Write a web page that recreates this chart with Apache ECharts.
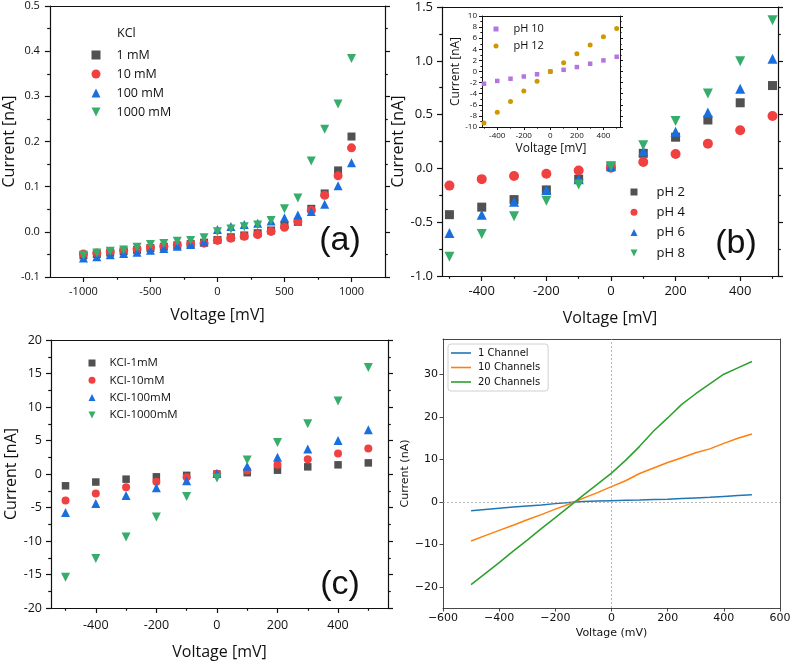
<!DOCTYPE html>
<html>
<head>
<meta charset="utf-8"/>
<title>I-V curves</title>
<script src="https://cdn.jsdelivr.net/npm/echarts@6.0.0/dist/echarts.min.js"></script>
<style>
  html, body {margin: 0; padding: 0; background: #fff;}
  #chart {width: 794px; height: 671px;}
</style>
</head>
<body>
<div id="chart"></div>
<script>
// ---- data ----
// (a) KCl concentration, -1000..1000 mV
var voltA = [-1000,-900,-800,-700,-600,-500,-400,-300,-200,-100,0,100,200,300,400,500,600,700,800,900,1000];
var kcl1A = [-0.052,-0.049,-0.046,-0.043,-0.040,-0.036,-0.033,-0.030,-0.027,-0.024,-0.018,-0.012,-0.008,-0.003,0.003,0.015,0.022,0.051,0.085,0.136,0.211];
var kcl10A = [-0.049,-0.047,-0.044,-0.041,-0.038,-0.035,-0.032,-0.029,-0.027,-0.025,-0.019,-0.014,-0.010,-0.006,0.001,0.010,0.023,0.048,0.081,0.124,0.186];
var kcl100A = [-0.058,-0.055,-0.051,-0.048,-0.045,-0.041,-0.037,-0.032,-0.028,-0.022,0.005,0.012,0.016,0.019,0.024,0.031,0.037,0.045,0.061,0.102,0.153];
var kcl1000A = [-0.052,-0.047,-0.043,-0.040,-0.034,-0.028,-0.026,-0.021,-0.019,-0.013,0.000,0.006,0.011,0.015,0.025,0.051,0.075,0.157,0.227,0.283,0.384];

// (b) pH, -500..500 mV
var volt = [-500,-400,-300,-200,-100,0,100,200,300,400,500];
var ph2 = [-0.43,-0.36,-0.29,-0.20,-0.10,0.02,0.14,0.29,0.45,0.61,0.77];
var ph4 = [-0.16,-0.10,-0.07,-0.05,-0.02,0.007,0.06,0.134,0.23,0.354,0.487];
var ph6 = [-0.60,-0.43,-0.31,-0.20,-0.10,0.02,0.16,0.34,0.52,0.74,1.02];
var ph8 = [-0.82,-0.61,-0.445,-0.30,-0.15,0.02,0.215,0.44,0.695,0.995,1.376];
// inset
var ph10 = [-2.2,-1.7,-1.3,-0.9,-0.5,0.0,0.3,0.8,1.4,2.0,2.65];
var ph12 = [-9.3,-7.35,-5.4,-3.5,-1.75,0.0,1.57,3.2,4.76,6.27,7.77];

// (c) KCl, -500..500 mV
var kcl1C = [-1.76,-1.2,-0.77,-0.42,-0.2,0.0,0.2,0.57,1.07,1.37,1.66];
var kcl10C = [-3.95,-2.9,-1.96,-1.17,-0.47,0.02,0.52,1.37,2.2,3.06,3.8];
var kcl100C = [-5.74,-4.4,-3.2,-2.06,-1.02,0.07,1.17,2.5,3.75,5.0,6.6];
var kcl1000C = [-15.4,-12.6,-9.4,-6.4,-3.35,-0.6,2.1,4.7,7.5,10.9,15.9];

// (d) simulated channels, -500..500 mV every 50
var voltD = [-500,-450,-400,-350,-300,-250,-200,-150,-100,-50,0,50,100,150,200,250,300,350,400,450,500];
var ch1 = [-2.1,-1.8,-1.5,-1.2,-0.95,-0.7,-0.4,-0.15,0.1,0.2,0.3,0.38,0.45,0.55,0.65,0.8,0.95,1.1,1.3,1.5,1.7];
var ch10 = [-9.2,-7.95,-6.7,-5.5,-4.2,-3.0,-1.7,-0.5,0.9,2.2,3.6,5.0,6.7,8.0,9.3,10.4,11.6,12.5,13.8,15.0,16.0];
var ch20 = [-19.5,-16.9,-14.3,-11.6,-9.0,-6.3,-3.7,-1.05,1.6,4.2,6.8,9.8,13.1,16.7,19.8,23.0,25.5,27.8,30.1,31.6,33.1];

// tick values
var ticksAx = [-1000,-500,0,500,1000];
var minorAx = [-750,-250,250,750];
var ticksAy = [-0.1,0,0.1,0.2,0.3,0.4,0.5];
var minorAy = [-0.05,0.05,0.15,0.25,0.35,0.45];
var ticksBx = [-400,-200,0,200,400];
var minorBx = [-500,-300,-100,100,300,500];
var ticksBy = [-1,-0.5,0,0.5,1,1.5];
var minorBy = [-0.75,-0.25,0.25,0.75,1.25];
var ticksIy = [-10,-8,-6,-4,-2,0,2,4,6,8,10];
var minorIy = [-9,-7,-5,-3,-1,1,3,5,7,9];
var ticksCy = [-20,-15,-10,-5,0,5,10,15,20];
var minorCy = [-17.5,-12.5,-7.5,-2.5,2.5,7.5,12.5,17.5];
var ticksDx = [-600,-400,-200,0,200,400,600];
var ticksDy = [-20,-10,0,10,20,30];

var grey = '#515151', red = '#F14040', blue = '#1A6FDF', green = '#37AD6B';
var purple = '#B177DE', gold = '#CC9900';
var sans = 'Open Sans';
var downTri = 'path://M0,0L10,0L5,10Z';

var grids = [], xAxes = [], yAxes = [];

function panel(o) {
    var g = grids.length;
    grids.push({left: o.box[0], top: o.box[1], width: o.box[2], height: o.box[3]});
    var ls = {color: o.lineColor || '#111', width: o.lineWidth || 1.2};
    var lab = {fontFamily: o.font || sans, fontSize: o.labelSize, color: '#111'};
    var xi = xAxes.length, yi = yAxes.length;
    function hidden(extra) {
        var a = {type: 'value', gridIndex: g, splitLine: {show: false},
            axisLine: {show: false, onZero: false}, axisLabel: {show: false}, axisTick: {show: false}};
        for (var k in extra) a[k] = extra[k];
        return a;
    }
    xAxes.push({type: 'value', gridIndex: g, position: 'bottom', min: o.xr[0], max: o.xr[1],
        name: o.xName, nameLocation: 'middle', nameGap: o.xGap,
        nameTextStyle: {fontFamily: o.font || sans, fontSize: o.nameSize, color: '#111'},
        axisLine: {show: true, onZero: false, lineStyle: ls},
        axisTick: {show: true, customValues: o.xTicks, length: o.tick, lineStyle: ls},
        axisLabel: Object.assign({customValues: o.xTicks, margin: o.xMargin, formatter: o.fmtX}, lab),
        splitLine: {show: false}});
    if (o.xMinor) xAxes.push(hidden({position: 'bottom', min: o.xr[0], max: o.xr[1],
        axisTick: {show: true, customValues: o.xMinor, length: o.tick * 0.55, lineStyle: ls}}));
    xAxes.push(hidden({position: 'top', min: o.xr[0], max: o.xr[1],
        axisLine: {show: true, onZero: false, lineStyle: ls}}));

    yAxes.push({type: 'value', gridIndex: g, position: 'left', min: o.yr[0], max: o.yr[1],
        name: o.yName, nameLocation: 'middle', nameGap: o.yGap,
        nameTextStyle: {fontFamily: o.font || sans, fontSize: o.nameSize, color: '#111'},
        axisLine: {show: true, onZero: false, lineStyle: ls},
        axisTick: {show: true, customValues: o.yTicks, length: o.tick, lineStyle: ls},
        axisLabel: Object.assign({customValues: o.yTicks, margin: o.yMargin, formatter: o.fmtY}, lab),
        splitLine: {show: false}});
    if (o.yMinor) yAxes.push(hidden({position: 'left', min: o.yr[0], max: o.yr[1],
        axisTick: {show: true, customValues: o.yMinor, length: o.tick * 0.55, lineStyle: ls}}));
    yAxes.push(hidden({position: 'right', min: o.yr[0], max: o.yr[1],
        axisLine: {show: true, onZero: false, lineStyle: ls},
        axisTick: {show: !!o.mirror, customValues: o.yTicks, length: o.tick, lineStyle: ls}}));
    if (o.mirror && o.yMinor) yAxes.push(hidden({position: 'right', min: o.yr[0], max: o.yr[1],
        axisTick: {show: true, customValues: o.yMinor, length: o.tick * 0.55, lineStyle: ls}}));
    return {x: xi, y: yi};
}

var fmt1 = function (v) { return v.toFixed(1); };
var fmt0 = function (v) { return String(Math.round(v)); };
var fmtMinus = function (v) { return String(Math.round(v)).replace('-', '\u2212'); };

var pa = panel({box: [49, 6, 336, 271], xr: [-1250, 1250], yr: [-0.1, 0.5],
    xTicks: ticksAx, xMinor: minorAx, yTicks: ticksAy, yMinor: minorAy, mirror: true,
    xName: 'Voltage [mV]', yName: 'Current [nA]', xGap: 30, yGap: 32, nameSize: 16,
    labelSize: 11, tick: 5, xMargin: 9, yMargin: 10, fmtX: fmt0, fmtY: fmt1});
var pb = panel({box: [442, 7, 336, 269], xr: [-523, 517], yr: [-1, 1.5],
    xTicks: ticksBx, xMinor: minorBx, yTicks: ticksBy, yMinor: minorBy, mirror: true,
    xName: 'Voltage [mV]', yName: 'Current [nA]', xGap: 34, yGap: 36, nameSize: 16,
    labelSize: 13, tick: 5, xMargin: 9, yMargin: 9, fmtX: fmt0, fmtY: fmt1});
var pi = panel({box: [482, 16, 138, 111], xr: [-515, 525], yr: [-10, 10],
    xTicks: ticksBx, xMinor: minorBx, yTicks: ticksIy, yMinor: minorIy, mirror: true,
    xName: 'Voltage [mV]', yName: 'Current [nA]', xGap: 16, yGap: 18, nameSize: 12,
    labelSize: 8, tick: 3, lineWidth: 1, xMargin: 5, yMargin: 5, fmtX: fmt0, fmtY: fmt0});
var pc = panel({box: [51, 340, 337, 268], xr: [-548, 565], yr: [-20, 20],
    xTicks: ticksBx, xMinor: minorBx, yTicks: ticksCy, yMinor: minorCy, mirror: true,
    xName: 'Voltage [mV]', yName: 'Current [nA]', xGap: 36, yGap: 32, nameSize: 16,
    labelSize: 12.5, tick: 5, xMargin: 11, yMargin: 9, fmtX: fmt0, fmtY: fmt0});
var pd = panel({box: [443, 339, 337, 269], xr: [-600, 600], yr: [-25, 38.4],
    xTicks: ticksDx, yTicks: ticksDy, mirror: false, font: 'DejaVu Sans',
    xName: 'Voltage (mV)', yName: 'Current (nA)', xGap: 20, yGap: 31, nameSize: 11,
    labelSize: 11, tick: 3.5, lineColor: '#333', lineWidth: 0.9, xMargin: 5, yMargin: 5,
    fmtX: fmtMinus, fmtY: fmtMinus});

function scat(name, xs, ys, p, symbol, size, color, down) {
    return {type: 'scatter', name: name, xAxisIndex: p.x, yAxisIndex: p.y,
        data: xs.map(function (x, i) { return [x, ys[i]]; }),
        symbol: symbol, symbolSize: size, symbolRotate: down ? 180 : 0,
        itemStyle: {color: color, opacity: 1}};
}
function curve(name, ys, color) {
    return {type: 'line', name: name, xAxisIndex: pd.x, yAxisIndex: pd.y,
        data: voltD.map(function (x, i) { return [x, ys[i]]; }),
        showSymbol: false, symbol: 'none', lineStyle: {color: color, width: 1.5}, itemStyle: {color: color}};
}

var series = [
    scat('1 mM', voltA, kcl1A, pa, 'rect', 8, grey),
    scat('10 mM', voltA, kcl10A, pa, 'circle', 9, red),
    scat('100 mM', voltA, kcl100A, pa, 'triangle', 9, blue),
    scat('1000 mM', voltA, kcl1000A, pa, 'triangle', 9, green, true),
    scat('pH 2', volt, ph2, pb, 'rect', 9, grey),
    scat('pH 4', volt, ph4, pb, 'circle', 10, red),
    scat('pH 6', volt, ph6, pb, 'triangle', 10, blue),
    scat('pH 8', volt, ph8, pb, 'triangle', 10, green, true),
    scat('pH 10', volt, ph10, pi, 'rect', 4.5, purple),
    scat('pH 12', volt, ph12, pi, 'circle', 5, gold),
    scat('KCl-1mM', volt, kcl1C, pc, 'rect', 7.5, grey),
    scat('KCl-10mM', volt, kcl10C, pc, 'circle', 8, red),
    scat('KCl-100mM', volt, kcl100C, pc, 'triangle', 9, blue),
    scat('KCl-1000mM', volt, kcl1000C, pc, 'triangle', 9, green, true),
    curve('1 Channel', ch1, '#1f77b4'),
    curve('10 Channels', ch10, '#ff7f0e'),
    curve('20 Channels', ch20, '#2ca02c')
];
series[14].markLine = {silent: true, symbol: 'none', label: {show: false},
    lineStyle: {type: [2, 2], color: '#999', width: 0.7},
    data: [{xAxis: 0}, {yAxis: 0}]};

function scatLegend(names, left, top, size, font, lh, gap, pad) {
    // last entry is the down-pointing triangle
    var items = names.map(function (n, i) {
        return i === 3 ? {name: n, icon: downTri} : {name: n};
    });
    return {data: items, orient: 'vertical', left: left, top: top, padding: 0,
        itemWidth: size, itemHeight: size, itemGap: gap, selectedMode: false,
        textStyle: {fontFamily: sans, fontSize: font, color: '#111', lineHeight: lh, padding: [0, 0, 0, pad]}};
}

var option = {
    animation: false,
    backgroundColor: '#fff',
    grid: grids,
    xAxis: xAxes,
    yAxis: yAxes,
    series: series,
    legend: [
        scatLegend(['1 mM', '10 mM', '100 mM', '1000 mM'], 91.5, 48, 9, 12.5, 14, 5, 11),
        scatLegend(['pH 2', 'pH 4', 'pH 6', 'pH 8'], 630.5, 185, 7, 13, 14, 6.3, 14),
        scatLegend(['pH 10', 'pH 12'], 493.5, 23, 5, 11, 12, 5, 10),
        scatLegend(['KCl-1mM', 'KCl-10mM', 'KCl-100mM', 'KCl-1000mM'], 88.5, 356.5, 7, 11.5, 13, 4.3, 9),
        {data: ['1 Channel', '10 Channels', '20 Channels'], orient: 'vertical', left: 448, top: 344,
            padding: [3, 8, 3, 3], itemWidth: 20, itemHeight: 1.6, itemGap: 2.5, icon: 'rect', selectedMode: false,
            backgroundColor: '#fff', borderColor: '#d0d0d0', borderWidth: 1, borderRadius: 3,
            textStyle: {fontFamily: 'DejaVu Sans', fontSize: 10, color: '#111', lineHeight: 12, padding: [0, 0, 0, 2]}}
    ],
    graphic: [
        {type: 'text', x: 117, y: 33, style: {text: 'KCl', fontFamily: sans, fontSize: 12.5, fill: '#111',
            textVerticalAlign: 'middle', verticalAlign: 'middle'}},
        {type: 'text', x: 340, y: 241, style: {text: '(a)', fontFamily: 'Liberation Sans', fontSize: 34, fill: '#111',
            textAlign: 'center', align: 'center', textVerticalAlign: 'middle', verticalAlign: 'middle'}},
        {type: 'text', x: 736, y: 244, style: {text: '(b)', fontFamily: 'Liberation Sans', fontSize: 34, fill: '#111',
            textAlign: 'center', align: 'center', textVerticalAlign: 'middle', verticalAlign: 'middle'}},
        {type: 'text', x: 340, y: 585, style: {text: '(c)', fontFamily: 'Liberation Sans', fontSize: 34, fill: '#111',
            textAlign: 'center', align: 'center', textVerticalAlign: 'middle', verticalAlign: 'middle'}}
    ]
};

var myChart = echarts.init(document.getElementById('chart'), null, {renderer: 'canvas'});
myChart.setOption(option);
</script>
</body>
</html>
